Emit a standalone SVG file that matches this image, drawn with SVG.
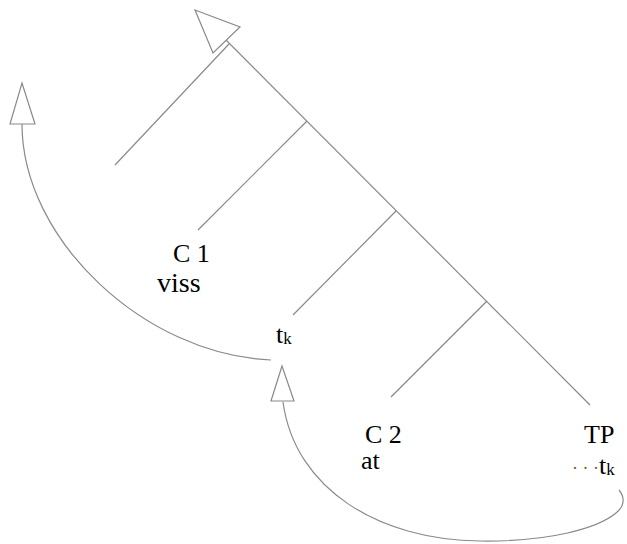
<svg xmlns="http://www.w3.org/2000/svg" width="627" height="544" viewBox="0 0 627 544">
<style>
.ln{stroke:#8a8a8a;stroke-width:1.2;fill:none}
.ah{stroke:#8a8a8a;stroke-width:1.2;fill:#fff;stroke-linejoin:miter}
.t{font-family:"Liberation Serif","Times New Roman",serif;font-size:26px;fill:#000}
.sub{font-size:17px}
</style>
<rect width="627" height="544" fill="#fff"/>
<g id="connectors">
<line class="ln" x1="226" y1="40" x2="590" y2="405"/>
<line class="ln" x1="229" y1="44" x2="115" y2="165"/>
<line class="ln" x1="307" y1="121" x2="198" y2="230"/>
<line class="ln" x1="396" y1="211" x2="293" y2="315"/>
<line class="ln" x1="487" y1="301" x2="391" y2="397"/>
<path class="ln" d="M271,360 C145,355 22,240 22,124"/>
<path class="ln" d="M283,402 C295,490 380,540 480,541 C550,542 598,528 616,513 C626,505 624,496 619,490"/>
<polygon class="ah" points="195,10 240,27 213,53"/>
<polygon class="ah" points="22,83 35,124 10,124"/>
<polygon class="ah" points="282,366 294,401 271,401"/>
</g>
<g id="node-c1"><text class="t" x="173" y="262">C 1</text><text class="t" x="157" y="292" style="font-size:28px">viss</text></g>
<g id="node-tk"><text class="t" x="276" y="343">t<tspan class="sub" dy="1">k</tspan></text></g>
<g id="node-c2"><text class="t" x="365" y="443">C 2</text><text class="t" x="361" y="469">at</text></g>
<g id="node-tp"><text class="t" x="584" y="443">TP</text><text class="t" x="572" y="474"><tspan style="font-size:18px;fill:#8a5a30">· · ·</tspan>t<tspan class="sub" dy="1">k</tspan></text></g>
</svg>
